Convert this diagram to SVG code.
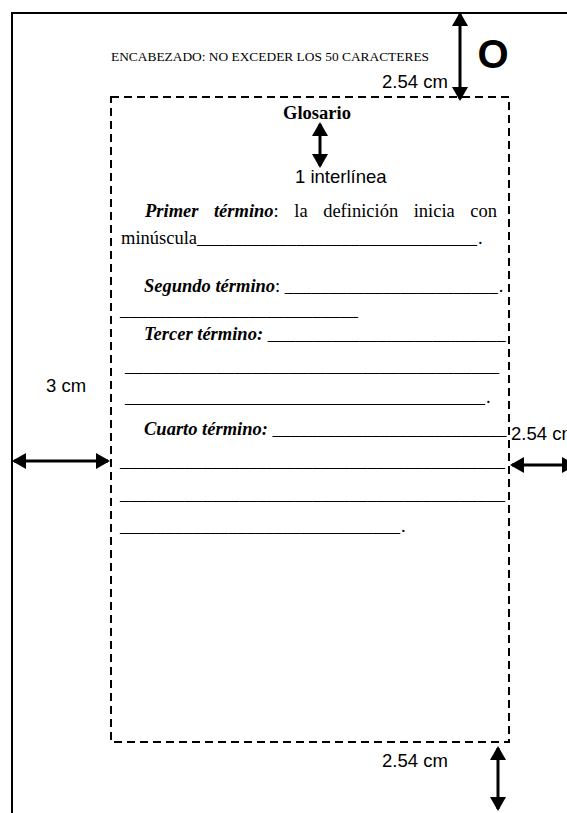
<svg xmlns="http://www.w3.org/2000/svg" width="567" height="813" viewBox="0 0 567 813">
<style>
.tnr{font-family:"Liberation Serif","Times New Roman",serif;font-size:18.5px;fill:#000}
.ar{font-family:"Liberation Sans",Arial,sans-serif;font-size:18.5px;fill:#000}
.bi{font-weight:bold;font-style:italic}
.arrow{stroke:#000;stroke-width:3;fill:none;marker-start:url(#head);marker-end:url(#head)}
</style>
<defs>
<marker id="head" viewBox="0 0 14 16" refX="12" refY="8" markerWidth="14" markerHeight="16" orient="auto-start-reverse" markerUnits="userSpaceOnUse">
<path d="M0,0 L14,8 L0,16 Z" fill="#000"/>
</marker>
<clipPath id="cliptop"><rect x="300" y="75" width="160" height="20"/></clipPath>
</defs>
<rect width="567" height="813" fill="#fff"/>
<g id="page">
<path d="M12,813 V13 H567" fill="none" stroke="#000" stroke-width="2"/>
<rect x="111" y="97" width="398" height="645" fill="none" stroke="#000" stroke-width="2" stroke-dasharray="8,5"/>
</g>
<g id="header">
<text x="111" y="61" font-family="'Liberation Serif','Times New Roman',serif" font-size="13.4">ENCABEZADO: NO EXCEDER LOS 50 CARACTERES</text>
<text x="477.5" y="67.5" font-family="'Liberation Sans',Arial,sans-serif" font-size="40" font-weight="bold">O</text>
</g>
<g id="labels">
<text class="ar" x="382" y="88" clip-path="url(#cliptop)">2.54 cm</text>
<text class="ar" x="295" y="183">1 interlínea</text>
<text class="ar" x="46" y="392">3 cm</text>
<text class="ar" x="511" y="440">2.54 cm</text>
<text class="ar" x="382" y="767">2.54 cm</text>
</g>
<g id="body" class="tnr">
<text x="317" y="119" text-anchor="middle" font-weight="bold">Glosario</text>
<text x="145" y="217" word-spacing="10.9"><tspan class="bi">Primer término</tspan>: la definición inicia con</text>
<text y="244"><tspan x="121">minúscula</tspan><tspan textLength="280" lengthAdjust="spacingAndGlyphs">_______________________________</tspan><tspan dx="1">.</tspan></text>
<text y="292"><tspan x="144" class="bi">Segundo término</tspan><tspan>: </tspan><tspan textLength="213" lengthAdjust="spacingAndGlyphs">________________________</tspan><tspan dx="1">.</tspan></text>
<text x="120" y="316" textLength="238" lengthAdjust="spacingAndGlyphs">__________________________</text>
<text y="340"><tspan x="144" class="bi">Tercer término: </tspan><tspan textLength="238" lengthAdjust="spacingAndGlyphs">__________________________</tspan></text>
<text x="125" y="372" textLength="374" lengthAdjust="spacingAndGlyphs">_________________________________________</text>
<text y="403"><tspan x="125" textLength="360" lengthAdjust="spacingAndGlyphs">________________________________________</tspan><tspan dx="1">.</tspan></text>
<text y="435"><tspan x="144" class="bi">Cuarto término: </tspan><tspan textLength="234" lengthAdjust="spacingAndGlyphs">__________________________</tspan></text>
<text x="120" y="467" textLength="385" lengthAdjust="spacingAndGlyphs">__________________________________________</text>
<text x="120" y="500" textLength="385" lengthAdjust="spacingAndGlyphs">__________________________________________</text>
<text y="532"><tspan x="120" textLength="280" lengthAdjust="spacingAndGlyphs">_______________________________</tspan><tspan dx="1">.</tspan></text>
</g>
<g id="connectors">
<line class="arrow" x1="460" y1="14" x2="460" y2="99"/>
<line class="arrow" x1="320" y1="124" x2="320" y2="166"/>
<line class="arrow" x1="14" y1="461" x2="108" y2="461"/>
<line class="arrow" x1="512" y1="465" x2="574" y2="465"/>
<line class="arrow" x1="498" y1="748" x2="498" y2="809"/>
</g>
</svg>
